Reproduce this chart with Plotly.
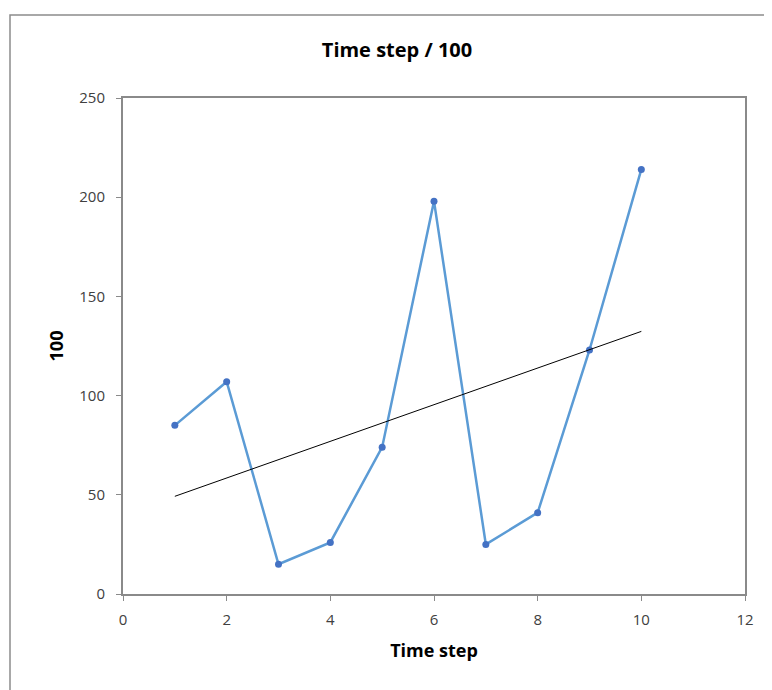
import numpy as np
import plotly.graph_objects as go

time_step = [1, 2, 3, 4, 5, 6, 7, 8, 9, 10]
values = [85, 107, 15, 26, 74, 198, 25, 41, 123, 214]
x_ticks = [0, 2, 4, 6, 8, 10, 12]
y_ticks = [0, 50, 100, 150, 200, 250]

slope, intercept = np.polyfit(time_step, values, 1)
trend_x = [time_step[0], time_step[-1]]
trend_y = [slope * x + intercept for x in trend_x]

fig = go.Figure()
fig.add_trace(go.Scatter(
    x=time_step, y=values, mode="lines+markers",
    line=dict(color="#5B9BD5", width=2.5),
    marker=dict(color="#4472C4", size=7),
    showlegend=False, hoverinfo="x+y"))
fig.add_trace(go.Scatter(
    x=trend_x, y=trend_y, mode="lines",
    line=dict(color="#000000", width=1),
    showlegend=False))

font_family = "Open Sans, Liberation Sans, sans-serif"
OFF = 8  # page offset of the figure
W, H = 764, 682
L, R, T, B = 115, 27, 90, 96
pw, ph = W - L - R, H - T - B

def px_x(p):
    return (p - OFF - L) / pw

def px_y(p):
    return (H - B - (p - OFF)) / ph

fig.add_shape(type="rect", xref="paper", yref="paper",
              x0=px_x(10), x1=px_x(800), y0=px_y(15), y1=px_y(720),
              line=dict(color="#8c8c8c", width=1.5), layer="below")

axis_common = dict(showgrid=False, zeroline=False, showline=True, mirror=True,
                   linecolor="#8a8a8a", linewidth=2, ticks="outside",
                   tickcolor="#8a8a8a", ticklen=5, tickwidth=1,
                   tickfont=dict(family=font_family, size=15, color="#404040"))

fig.update_layout(
    width=W, height=H,
    margin=dict(l=L, r=R, t=T, b=B),
    paper_bgcolor="white", plot_bgcolor="white",
    title=dict(text="<b>Time step / 100</b>", xref="container",
               x=(397 - OFF) / W, xanchor="center",
               y=1 - (50 - OFF) / H, yanchor="middle",
               font=dict(family=font_family, size=20, color="#000000")),
    xaxis=dict(range=[0, 12], tickvals=x_ticks, ticklabelstandoff=6,
               title=dict(text="<b>Time step</b>", standoff=16,
                          font=dict(family=font_family, size=18, color="#000000")),
               **axis_common),
    yaxis=dict(range=[0, 250], tickvals=y_ticks, ticklabelstandoff=8,
               title=dict(text="<b>100</b>", standoff=11,
                          font=dict(family=font_family, size=18, color="#000000")),
               **axis_common),
)

fig.write_html("out.html")
